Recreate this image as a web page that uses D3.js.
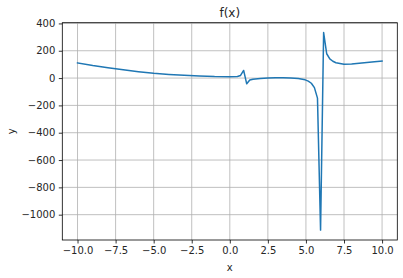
<!DOCTYPE html>
<html>
<head>
<meta charset="utf-8">
<script src="https://cdn.jsdelivr.net/npm/d3@7"></script>
<style>
  body { margin: 0; background: #fff; }
  text { font-family: "DejaVu Sans", sans-serif; fill: #262626; }
</style>
</head>
<body>
<div id="chart"></div>
<script>
// values
var xs = [-10, -9, -8, -7, -6, -5, -4, -3, -2, -1, 0, 0.5, 0.707, 0.909, 1.111, 1.313, 1.515,
          2, 2.5, 3, 3.5, 4, 4.5, 4.95, 5.152, 5.354, 5.556, 5.758, 5.960, 6.162, 6.364,
          6.566, 6.768, 6.970, 7.5, 8, 8.5, 9, 9.5, 10];
var ys = [111, 92, 76, 61, 47, 35, 27, 20, 15, 11, 10, 12, 19, 56, -42, -14, -8,
          -3, 0, 2, 2, 1, -3, -13, -22, -38, -70, -147, -1113, 333, 178,
          140, 123, 112, 101, 103, 109, 114, 119, 124];
var xTicks = [-10, -7.5, -5, -2.5, 0, 2.5, 5, 7.5, 10];
var yTicks = [-1000, -800, -600, -400, -200, 0, 200, 400];

var W = 403, H = 278;
var margin = { top: 22.7, right: 5.7, bottom: 38, left: 62.3 },
    width = W - margin.left - margin.right,
    height = H - margin.top - margin.bottom;

var data = xs.map(function (x, i) { return { x: x, y: ys[i] }; });

// matplotlib style 5% margins
function padded(ext) {
  var p = (ext[1] - ext[0]) * 0.05;
  return [ext[0] - p, ext[1] + p];
}
var x = d3.scaleLinear().domain(padded(d3.extent(xs))).range([0, width]);
var y = d3.scaleLinear().domain(padded(d3.extent(ys))).range([height, 0]);

var fmtMinus = function (s) { return s.replace("-", "\u2212"); };

var svg = d3.select("#chart").append("svg")
  .attr("width", W).attr("height", H);
var g = svg.append("g")
  .attr("transform", "translate(" + margin.left + "," + margin.top + ")");

// grid
g.append("g").selectAll("line").data(xTicks).enter().append("line")
  .attr("x1", function (d) { return x(d); }).attr("x2", function (d) { return x(d); })
  .attr("y1", 0).attr("y2", height)
  .attr("stroke", "#b0b0b0").attr("stroke-width", 0.8);
g.append("g").selectAll("line").data(yTicks).enter().append("line")
  .attr("y1", function (d) { return y(d); }).attr("y2", function (d) { return y(d); })
  .attr("x1", 0).attr("x2", width)
  .attr("stroke", "#b0b0b0").attr("stroke-width", 0.8);

// line
var line = d3.line().x(function (d) { return x(d.x); }).y(function (d) { return y(d.y); });
g.append("path").datum(data)
  .attr("d", line)
  .attr("fill", "none")
  .attr("stroke", "#1f77b4")
  .attr("stroke-width", 1.5)
  .attr("stroke-linejoin", "round")
  .attr("stroke-linecap", "square");

// axes
var xAxis = g.append("g").attr("transform", "translate(0," + height + ")")
  .call(d3.axisBottom(x).tickValues(xTicks).tickSizeOuter(0).tickSize(3.5).tickPadding(3.5)
    .tickFormat(function (d) { return fmtMinus(d3.format(".1f")(d)); }));
var yAxis = g.append("g")
  .call(d3.axisLeft(y).tickValues(yTicks).tickSizeOuter(0).tickSize(3.5).tickPadding(3.5)
    .tickFormat(function (d) { return fmtMinus(d3.format("d")(d)); }));
[xAxis, yAxis].forEach(function (a) {
  a.select(".domain").remove();
  a.selectAll(".tick line").attr("stroke", "#000").attr("stroke-width", 0.8);
  a.selectAll(".tick text").style("font-family", "DejaVu Sans").style("font-size", "10px").attr("fill", "#000");
});

// frame
g.append("rect").attr("width", width).attr("height", height)
  .attr("fill", "none").attr("stroke", "#000").attr("stroke-width", 0.8);

// labels
svg.append("text").attr("x", margin.left + width / 2).attr("y", 17)
  .attr("text-anchor", "middle").style("font-size", "12px").attr("fill", "#000").text("f(x)");
svg.append("text").attr("x", margin.left + width / 2).attr("y", 271)
  .attr("text-anchor", "middle").style("font-size", "10px").attr("fill", "#000").text("x");
svg.append("text").attr("transform", "translate(15," + (margin.top + height / 2) + ") rotate(-90)")
  .attr("text-anchor", "middle").style("font-size", "10px").attr("fill", "#000").text("y");
</script>
</body>
</html>
